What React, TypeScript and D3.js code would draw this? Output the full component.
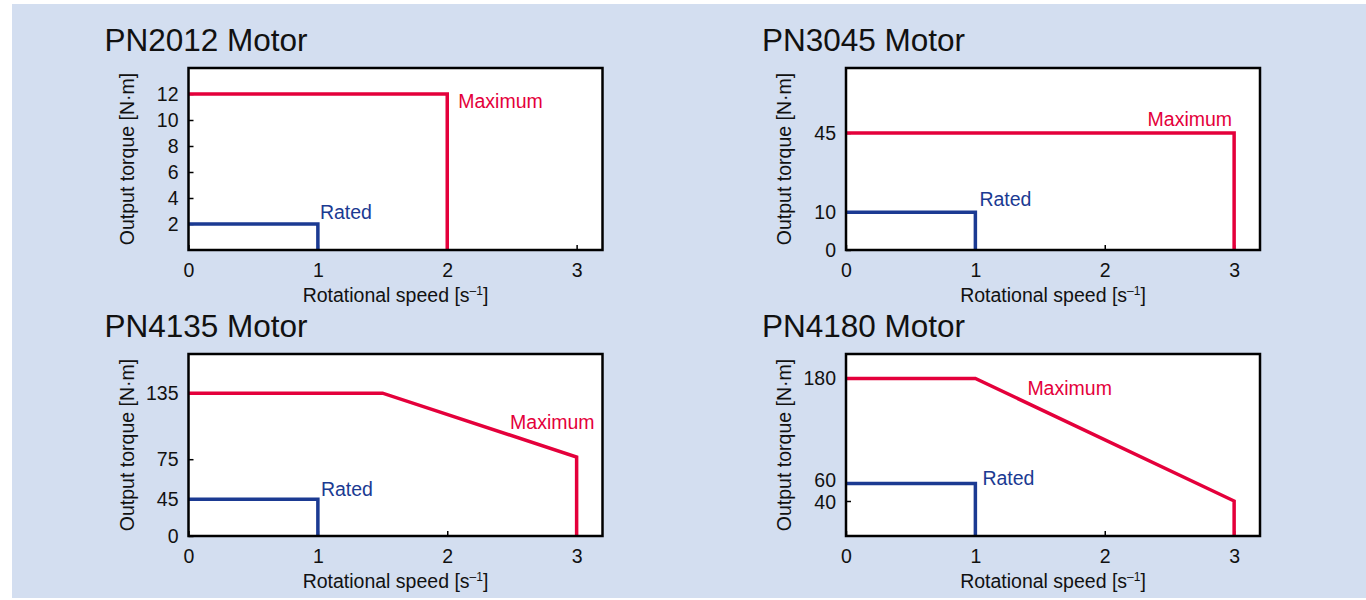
import React, { useEffect, useRef } from 'react'
import * as d3 from 'd3'

// torque / speed envelopes for the four motors
const titles = ['PN2012 Motor', 'PN3045 Motor', 'PN4135 Motor', 'PN4180 Motor']
const speedTicks = [0, 1, 2, 3]
const torqueTicks = [[2, 4, 6, 8, 10, 12], [0, 10, 45], [0, 45, 75, 135], [40, 60, 180]]

const maxCurves: number[][][] = [
  [[0, 12], [2, 12], [2, 0]],
  [[0, 45], [3, 45], [3, 0]],
  [[0, 135], [1.5, 135], [3, 77], [3, 0]],
  [[0, 180], [1, 180], [3, 40], [3, 0]]
]
const ratedCurves: number[][][] = [
  [[0, 2], [1, 2], [1, 0]],
  [[0, 10], [1, 10], [1, 0]],
  [[0, 45], [1, 45], [1, 0]],
  [[0, 60], [1, 60], [1, 0]]
]

// the printed torque axes are not evenly spaced, so the scales are piecewise
const torqueDomains = [[0, 14], [0, 10, 45, 70], [0, 45, 75, 135, 170], [0, 208]]
const torqueStops = [[0, 1], [0, 0.207, 0.643, 1], [0, 0.202, 0.422, 0.785, 1], [0, 1]]
// 60 and 40 sit close together on the last chart, so their labels are pushed apart
const tickLabelNudge: Record<number, number>[] = [{}, {}, {}, { 60: -3.5, 40: 1 }]

// where the "Maximum" / "Rated" captions sit: [curve point index, dx, dy, anchor]
const maxLabelAt: [number, number, number, string][] = [[1, 11, 14, 'start'], [1, -2, -7, 'end'], [2, 18, -28, 'end'], [1, 52, 16, 'start']]
const ratedLabelAt: [number, number, number, string][] = [[1, 2, -5, 'start'], [1, 4, -6, 'start'], [1, 3, -3, 'start'], [1, 7, 1.5, 'start']]

const FONT = '"Liberation Sans", Arial, Helvetica, sans-serif'
const RED = '#e4003b'
const BLUE = '#1b3a92'
const W = 414
const H = 182
const cols = [188.5, 846]
const rows = [68, 354]

function App () {
  const ref = useRef<SVGSVGElement>(null)

  useEffect(() => {
    const svg = d3.select(ref.current)
    svg.selectAll('*').remove()

    svg.append('rect')
      .attr('x', 12).attr('y', 4)
      .attr('width', 1354).attr('height', 594)
      .attr('fill', '#d3def0')

    titles.forEach((title, i) => {
      const g = svg.append('g')
        .attr('transform', 'translate(' + cols[i % 2] + ',' + rows[Math.floor(i / 2)] + ')')

      const x = d3.scaleLinear().domain([0, 3.2]).range([0, W])
      const y = d3.scaleLinear()
        .domain(torqueDomains[i])
        .range(torqueStops[i].map(s => H * (1 - s)))

      g.append('rect')
        .attr('width', W).attr('height', H)
        .attr('fill', '#fff')

      // axes with inward ticks
      const nudge = tickLabelNudge[i]
      g.append('g')
        .call(d3.axisLeft(y).tickValues(torqueTicks[i]).tickSize(-5).tickPadding(10))
        .call(a => a.select('.domain').remove())
        .call(a => a.selectAll('line').attr('stroke', '#000').attr('stroke-width', 1.5))
        .call(a => a.selectAll<SVGTextElement, number>('text')
          .attr('font-size', 19.5).attr('font-family', FONT).attr('fill', '#111')
          .attr('y', d => nudge[d] || 0))

      g.append('g')
        .attr('transform', 'translate(0,' + H + ')')
        .call(d3.axisBottom(x).tickValues(speedTicks).tickSize(-5).tickPadding(13).tickFormat(d3.format('d')))
        .call(a => a.select('.domain').remove())
        .call(a => a.selectAll('line').attr('stroke', '#000').attr('stroke-width', 1.5))
        .call(a => a.selectAll('text').attr('font-size', 19.5).attr('font-family', FONT).attr('fill', '#111'))

      const line = d3.line<number[]>()
        .x(d => x(d[0]))
        .y(d => y(d[1]))

      g.append('path')
        .datum(ratedCurves[i])
        .attr('fill', 'none')
        .attr('stroke', BLUE)
        .attr('stroke-width', 3.5)
        .attr('stroke-linejoin', 'miter')
        .attr('d', line)

      g.append('path')
        .datum(maxCurves[i])
        .attr('fill', 'none')
        .attr('stroke', RED)
        .attr('stroke-width', 3.5)
        .attr('stroke-linejoin', 'miter')
        .attr('d', line)

      g.append('rect')
        .attr('width', W).attr('height', H)
        .attr('fill', 'none')
        .attr('stroke', '#000')
        .attr('stroke-width', 2.5)

      const caption = (text: string, curve: number[][], at: [number, number, number, string], color: string) => {
        const p = curve[at[0]]
        g.append('text')
          .attr('x', x(p[0]) + at[1])
          .attr('y', y(p[1]) + at[2])
          .attr('text-anchor', at[3])
          .attr('font-family', FONT)
          .attr('font-size', 19.5)
          .attr('fill', color)
          .text(text)
      }
      caption('Maximum', maxCurves[i], maxLabelAt[i], RED)
      caption('Rated', ratedCurves[i], ratedLabelAt[i], BLUE)

      g.append('text')
        .attr('x', -84).attr('y', -17)
        .attr('font-family', FONT)
        .attr('font-size', 31.5)
        .attr('fill', '#111')
        .text(title)

      const xt = g.append('text')
        .attr('x', W / 2).attr('y', H + 51.5)
        .attr('text-anchor', 'middle')
        .attr('font-family', FONT)
        .attr('font-size', 19.5)
        .attr('fill', '#111')
      xt.append('tspan').text('Rotational speed [s')
      xt.append('tspan').attr('dy', -7).attr('font-size', 12).text('–1')
      xt.append('tspan').attr('dy', 7).text(']')

      g.append('text')
        .attr('transform', 'translate(-55,' + H / 2 + ') rotate(-90)')
        .attr('text-anchor', 'middle')
        .attr('font-family', FONT)
        .attr('font-size', 19.5)
        .attr('fill', '#111')
        .text('Output torque [N·m]')
    })
  }, [])

  return (
    <svg
      ref={ref}
      width={1366}
      height={600}
      style={{ position: 'absolute', left: 0, top: 0, display: 'block' }}
    />
  )
}

export default App
